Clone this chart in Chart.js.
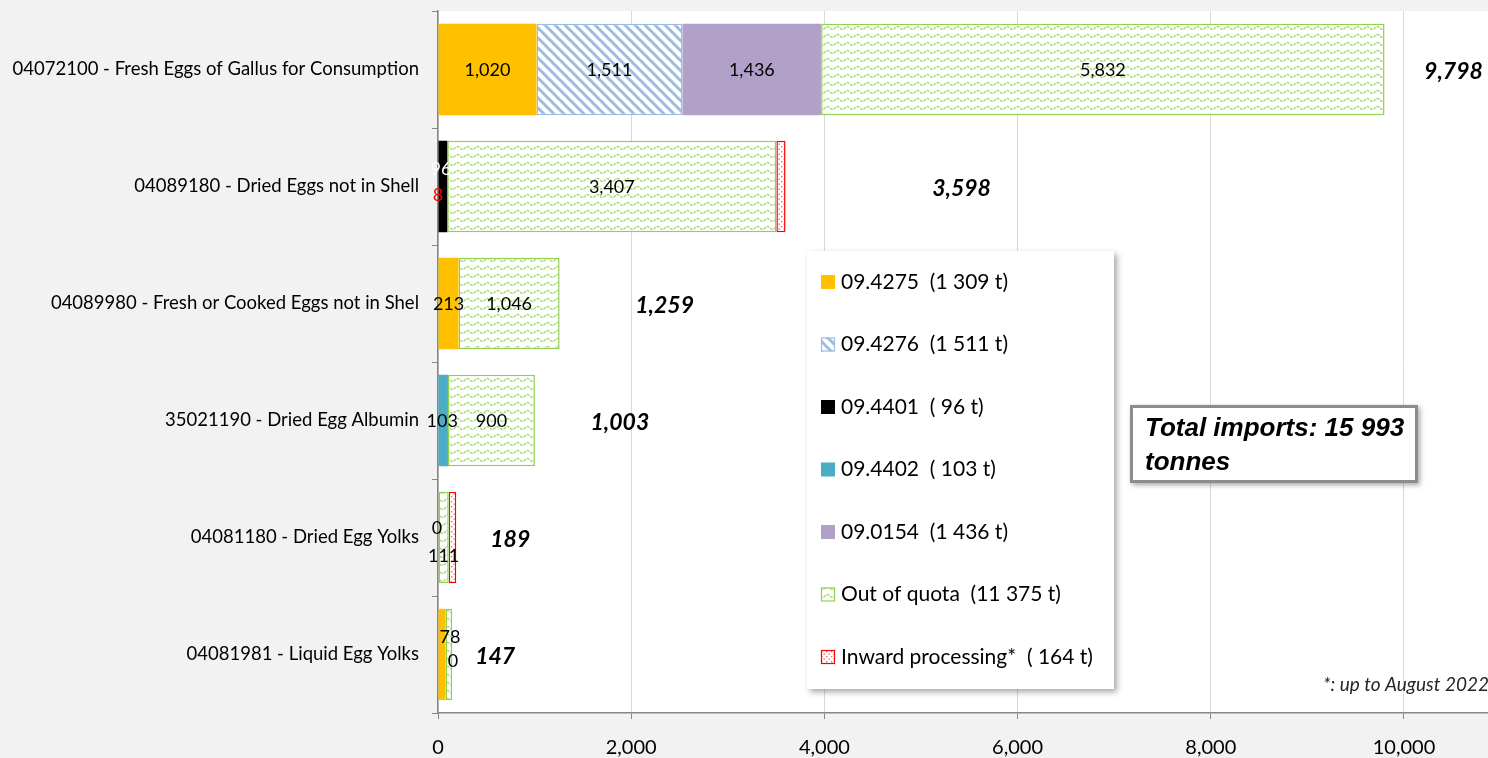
<!DOCTYPE html>
<html>
<head>
<meta charset="utf-8">
<script src="https://cdn.jsdelivr.net/npm/chart.js@4/dist/chart.umd.min.js"></script>
<style>
  html, body { margin: 0; padding: 0; background: #f2f2f2; }
  #wrap { width: 1488px; height: 758px; }
</style>
</head>
<body>
<div id="wrap"><canvas id="eggs" width="1488" height="758"></canvas></div>
<script>
const categories = [
  "04072100 - Fresh Eggs of Gallus for Consumption",
  "04089180 - Dried Eggs not in Shell",
  "04089980 - Fresh or Cooked Eggs not in Shel",
  "35021190 - Dried Egg Albumin",
  "04081180 - Dried Egg Yolks",
  "04081981 - Liquid Egg Yolks",
];

// null = no bar in that row
const q4275 = [1020, null, 213, null, null, 78];
const q4276 = [1511, null, null, null, null, null];
const q4401 = [null, 96, null, null, null, null];
const q4402 = [null, null, null, 103, null, null];
const q0154 = [1436, null, null, null, null, null];
const outOfQuota = [5832, 3407, 1046, 900, 111, 69];
const inward = [null, 95, null, null, 78, null];
const totals = [9798, 3598, 1259, 1003, 189, 147];

const legendLabels = [
  "09.4275  (1 309 t)",
  "09.4276  (1 511 t)",
  "09.4401  ( 96 t)",
  "09.4402  ( 103 t)",
  "09.0154  (1 436 t)",
  "Out of quota  (11 375 t)",
  "Inward processing*  ( 164 t)",
];

const xTicks = [0, 2000, 4000, 6000, 8000, 10000];

const ctx = document.getElementById("eggs").getContext("2d");

function makePattern(w, h, draw) {
  const c = document.createElement("canvas");
  c.width = w;
  c.height = h;
  const g = c.getContext("2d");
  g.fillStyle = "#fff";
  g.fillRect(0, 0, w, h);
  draw(g, w, h);
  return ctx.createPattern(c, "repeat");
}

const stripes = makePattern(10, 10, (g) => {
  g.strokeStyle = "#9ebbe0";
  g.lineWidth = 3;
  for (let k = -1; k <= 1; k++) {
    g.beginPath();
    g.moveTo(k * 10 - 2, -2);
    g.lineTo(k * 10 + 12, 12);
    g.stroke();
  }
});

const waves = makePattern(10, 8, (g) => {
  g.strokeStyle = "#a3d572";
  g.lineWidth = 1.4;
  g.setLineDash([3, 1]);
  g.beginPath();
  for (let x = 0; x <= 10; x += 0.5) {
    const y = 4 + 1.5 * Math.sin((x / 10) * Math.PI * 2);
    if (x === 0) g.moveTo(x, y);
    else g.lineTo(x, y);
  }
  g.stroke();
});

const dots = makePattern(5, 5, (g) => {
  g.fillStyle = "#ff6b6b";
  g.fillRect(1, 1, 1.4, 1.4);
  g.fillRect(3.5, 3.5, 1.4, 1.4);
});

const datasets = [
  { label: legendLabels[0], data: q4275, backgroundColor: "#ffc000", borderWidth: 0 },
  { label: legendLabels[1], data: q4276, backgroundColor: stripes, borderColor: "#9ebbe0", borderWidth: 1.5, borderSkipped: false },
  { label: legendLabels[2], data: q4401, backgroundColor: "#000000", borderWidth: 0 },
  { label: legendLabels[3], data: q4402, backgroundColor: "#4bacc6", borderWidth: 0 },
  { label: legendLabels[4], data: q0154, backgroundColor: "#b1a0c7", borderWidth: 0 },
  { label: legendLabels[5], data: outOfQuota, backgroundColor: waves, borderColor: "#92d050", borderWidth: 1.5, borderSkipped: false },
  { label: legendLabels[6], data: inward, backgroundColor: dots, borderColor: "#ff0000", borderWidth: 1.5, borderSkipped: false },
];

// label tweaks for the cramped little bars, key = dataset:row
const labelTweaks = {
  "2:1": { dx: -2, dy: -18, color: "#ffffff" },
  "6:1": { hide: true },
  "3:3": { dx: -1 },
  "5:4": { dy: 18 },
  "6:4": { hide: true },
  "0:5": { dx: 8, dy: -18 },
  "5:5": { hide: true },
};
const extraLabels = [
  { row: 1, text: "8", color: "#ff0000", dx: 0, dy: 9 },
  { row: 4, text: "0", color: "#000", dx: -1, dy: -9 },
  { row: 5, text: "0", color: "#000", dx: 15, dy: 7 },
];
const totalOffsets = [69, 176, 105, 85, 54, 43];

const backdrop = {
  id: "backdrop",
  beforeDraw(chart) {
    const { ctx, chartArea: a } = chart;
    ctx.save();
    ctx.fillStyle = "#f2f2f2";
    ctx.fillRect(0, 0, chart.width, chart.height);
    ctx.fillStyle = "#ffffff";
    ctx.fillRect(a.left, a.top, a.right - a.left, a.bottom - a.top);
    ctx.restore();
  },
};

const valueLabels = {
  id: "valueLabels",
  afterDatasetsDraw(chart) {
    const { ctx } = chart;
    const xs = chart.scales.x;
    const ys = chart.scales.y;
    ctx.save();
    ctx.font = "18px Lato";
    ctx.textAlign = "center";
    ctx.textBaseline = "middle";
    chart.data.datasets.forEach((ds, i) => {
      const meta = chart.getDatasetMeta(i);
      meta.data.forEach((el, j) => {
        const v = ds.data[j];
        if (v === null) return;
        const t = labelTweaks[i + ":" + j] || {};
        if (t.hide) return;
        ctx.fillStyle = t.color || "#000";
        ctx.fillText(v.toLocaleString("en-US"), (el.x + el.base) / 2 + (t.dx || 0), el.y + 1 + (t.dy || 0));
      });
    });
    for (const e of extraLabels) {
      ctx.fillStyle = e.color;
      ctx.fillText(e.text, xs.getPixelForValue(0) + e.dx, ys.getPixelForValue(e.row) + e.dy);
    }
    // totals
    ctx.font = "italic bold 23px Lato";
    ctx.fillStyle = "#000";
    totals.forEach((t, j) => {
      const x = xs.getPixelForValue(t) + totalOffsets[j];
      ctx.fillText(t.toLocaleString("en-US"), x, ys.getPixelForValue(j) + 2);
    });
    ctx.restore();
  },
};

const boxes = {
  id: "boxes",
  afterDraw(chart) {
    const { ctx } = chart;
    ctx.save();
    // legend box
    ctx.shadowColor = "rgba(0,0,0,0.35)";
    ctx.shadowBlur = 6;
    ctx.shadowOffsetX = 3;
    ctx.shadowOffsetY = 3;
    ctx.fillStyle = "#fff";
    ctx.fillRect(807, 251, 307, 438);
    ctx.shadowColor = "transparent";
    ctx.font = "21px Lato";
    ctx.textBaseline = "middle";
    ctx.textAlign = "left";
    chart.data.datasets.forEach((ds, i) => {
      const y = 282 + i * 62.5;
      ctx.fillStyle = ds.backgroundColor;
      ctx.fillRect(821, y - 7, 14, 14);
      if (ds.borderWidth) {
        ctx.strokeStyle = ds.borderColor;
        ctx.lineWidth = 1.2;
        ctx.strokeRect(821.5, y - 6.5, 13, 13);
      }
      ctx.fillStyle = "#000";
      ctx.fillText(ds.label, 841, y);
    });

    // total imports box
    ctx.shadowColor = "rgba(0,0,0,0.35)";
    ctx.shadowBlur = 5;
    ctx.shadowOffsetX = 2;
    ctx.shadowOffsetY = 2;
    ctx.fillStyle = "#fff";
    ctx.fillRect(1130, 405, 288, 78);
    ctx.shadowColor = "transparent";
    ctx.strokeStyle = "#8c8c8c";
    ctx.lineWidth = 3;
    ctx.strokeRect(1131.5, 406.5, 285, 75);
    ctx.fillStyle = "#000";
    ctx.font = "italic bold 26px 'Liberation Sans'";
    ctx.fillText("Total imports: 15 993", 1145, 429);
    ctx.fillText("tonnes", 1145, 463);

    // footnote
    ctx.font = "italic 19px Lato";
    ctx.fillStyle = "#262626";
    ctx.fillText("*: up to August 2022", 1323, 685);
    ctx.restore();
  },
};

const config = {
  type: "bar",
  data: { labels: categories, datasets },
  options: {
    indexAxis: "y",
    responsive: false,
    animation: false,
    layout: { padding: 0 },
    datasets: { bar: { categoryPercentage: 1, barPercentage: 0.78 } },
    plugins: { legend: { display: false }, tooltip: { enabled: false } },
    scales: {
      x: {
        stacked: true,
        min: 0,
        max: 10870,
        afterFit: (s) => { s.height = 45; },
        afterBuildTicks: (s) => { s.ticks = xTicks.map((v) => ({ value: v })); },
        grid: { color: "#d9d9d9", tickColor: "#868686", tickLength: 6 },
        border: { color: "#868686", width: 1.5 },
        ticks: {
          padding: 17,
          color: "#000",
          font: { family: "Lato", size: 20 },
          callback: (v) => v.toLocaleString("en-US"),
        },
      },
      y: {
        stacked: true,
        afterFit: (s) => { s.width = 438; s.paddingTop = 11; },
        grid: { drawOnChartArea: false, tickColor: "#868686", tickLength: 6 },
        border: { color: "#868686", width: 1.5 },
        ticks: { padding: 13, color: "#000", font: { family: "Lato", size: 18.5 } },
      },
    },
  },
  plugins: [backdrop, valueLabels, boxes],
};

new Chart(ctx, config);
</script>
</body>
</html>
